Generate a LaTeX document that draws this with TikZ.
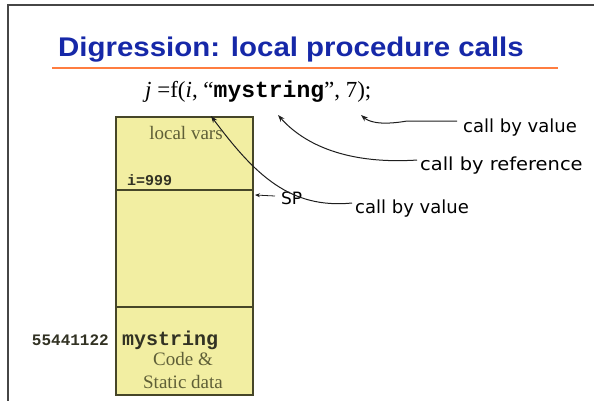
\documentclass[tikz,border=0pt]{standalone}
\usepackage{fontspec}
\setmainfont{Liberation Serif}
\setsansfont{DejaVu Sans}
\setmonofont{Liberation Mono}
\newfontfamily\titlefont{Liberation Sans}
\usetikzlibrary{arrows.meta}
\definecolor{titleblue}{RGB}{22,40,168}
\definecolor{rulecol}{RGB}{255,125,64}
\definecolor{boxfill}{RGB}{242,238,162}
\definecolor{boxline}{RGB}{70,70,40}
\definecolor{boxtext}{RGB}{95,95,55}
\definecolor{codetext}{RGB}{50,50,35}
\definecolor{framecol}{RGB}{70,70,70}
\definecolor{arrowcol}{RGB}{30,30,30}
\begin{document}
\begin{tikzpicture}[x=1pt,y=-1pt,
  seg/.style={draw=boxline, fill=boxfill, line width=1.3pt, minimum width=137pt, inner sep=0pt, rectangle},
  lbl/.style={font=\sffamily\fontsize{18}{21}\selectfont, anchor=base west, inner sep=0pt},
  callarrow/.style={draw=arrowcol, line width=1pt, -{Stealth[length=7pt,width=5pt]}},
  boxserif/.style={font=\fontsize{19}{23}\selectfont, text=boxtext, inner sep=0pt},
  boxcode/.style={font=\ttfamily\bfseries, text=codetext, inner sep=0pt}]
\useasboundingbox (0,0) rectangle (594,401);
\draw[framecol, line width=2pt] (8,401) -- (8,5) -- (594,5);
\node[anchor=base west, font=\titlefont\bfseries\fontsize{27}{30}\selectfont, text=titleblue, inner sep=0pt] (title) at (58,57) {\scalebox{1.09}[1]{Digression: local procedure calls}};
\coordinate (ruleL) at (52,68);
\coordinate (ruleR) at (558,68);
\draw[rulecol, line width=2pt] (ruleL) -- (ruleR);
% formula
\node[anchor=base west, inner sep=0pt, font=\fontsize{23}{26}\selectfont] (formula) at (145,98) {\textit{j} =f(\textit{i}, “\texttt{\bfseries mystring}”, 7);};
% stack
\node[seg, minimum height=73pt] (locals) at (184.5,153.5) {};
\node[seg, minimum height=117pt] (free) at (184.5,248.5) {};
\node[seg, minimum height=88pt] (code) at (184.5,351) {};
\node[boxserif] (lv) at (186,133) {local vars};
\node[boxcode, font=\ttfamily\bfseries\fontsize{15}{18}\selectfont, anchor=west] (ival) at (127,180) {i=999};
\node[boxcode, font=\ttfamily\bfseries\fontsize{20}{24}\selectfont, anchor=west] (ms) at (122,340) {mystring};
\node[boxserif, align=center, anchor=north] (cs) at (183,352) {Code \&\\Static data};
\node[boxcode, font=\ttfamily\bfseries\fontsize{16}{19}\selectfont, anchor=east] (addr) at (109,340) {55441122};
% labels
\node[lbl] (cbv1) at (463,132) {call by value};
\node[lbl] (cbr) at (420,170) {\scalebox{1.08}[1]{call by reference}};
\node[lbl] (cbv2) at (355,213) {call by value};
\node[font=\sffamily\fontsize{17}{19}\selectfont, anchor=west, inner sep=0pt] (sp) at (281,198) {SP};
% arrow targets
\coordinate (t1) at (361,115);
\coordinate (t2) at (278,115);
\coordinate (t3) at (211,116);
\coordinate (tsp) at (255,195);
\draw[callarrow] (cbv1.west) ++(-6,-6) -- ++(-50,0) .. controls (378,126) and (368,121) .. (t1);
\draw[callarrow] (cbr.west) ++(-3,-5) .. controls (340,165) and (300,140) .. (t2);
\draw[callarrow] (cbv2.west) ++(-3,-5) .. controls (290,209) and (255,175) .. (t3);
\draw[draw=arrowcol, line width=0.8pt, -{Stealth[length=5pt,width=4pt]}] (sp.west) ++(-6,-2) -- (tsp);
\end{tikzpicture}
\end{document}
